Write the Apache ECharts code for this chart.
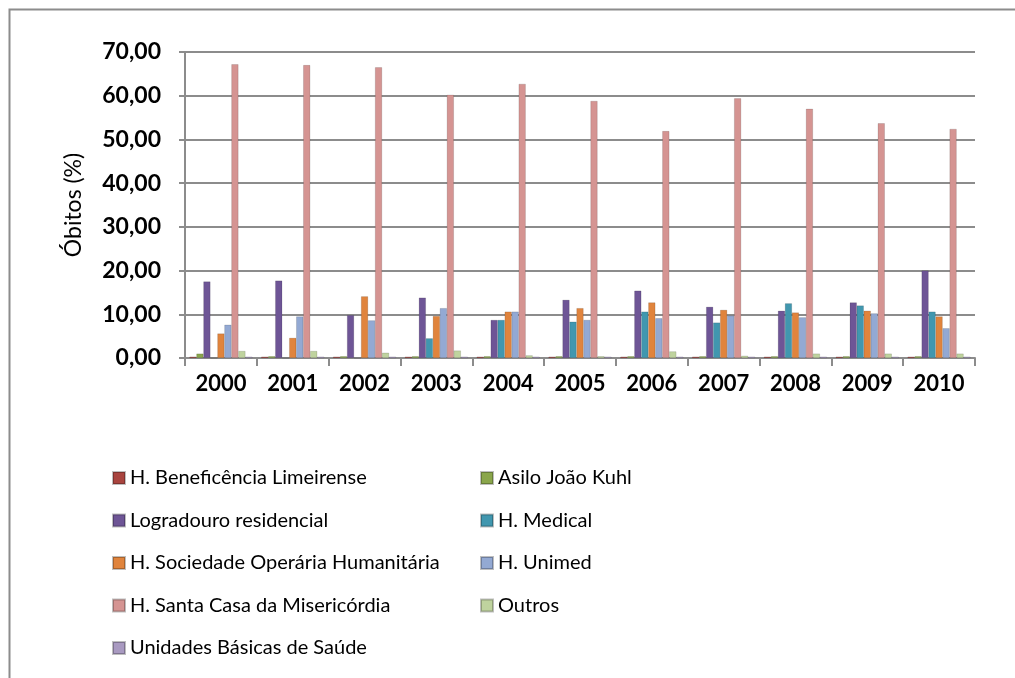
<!DOCTYPE html>
<html>
<head>
<meta charset="utf-8">
<title>Óbitos por local</title>
<script src="https://cdn.jsdelivr.net/npm/echarts@6/dist/echarts.min.js"></script>
<style>
  html, body { margin: 0; padding: 0; background: #fff; }
  #chart { width: 1015px; height: 678px; }
</style>
</head>
<body>
<div id="chart"></div>
<script>
// anos (eixo x)
const anos = ['2000', '2001', '2002', '2003', '2004', '2005', '2006', '2007', '2008', '2009', '2010']

// óbitos (%) por local
const beneficencia = [0.3, 0.3, 0.3, 0.3, 0.3, 0.3, 0.3, 0.3, 0.3, 0.3, 0.3]
const asilo = [1.0, 0.4, 0.4, 0.4, 0.4, 0.4, 0.4, 0.4, 0.4, 0.4, 0.4]
const logradouro = [17.5, 17.7, 9.8, 13.8, 8.7, 13.3, 15.4, 11.7, 10.8, 12.7, 20.0]
const medical = [0, 0, 0, 4.5, 8.7, 8.3, 10.6, 8.1, 12.5, 12.0, 10.6]
const sociedade = [5.6, 4.6, 14.1, 9.6, 10.6, 11.4, 12.7, 11.0, 10.4, 10.8, 9.5]
const unimed = [7.6, 9.5, 8.6, 11.4, 10.6, 8.7, 9.1, 9.7, 9.3, 10.2, 6.8]
const santaCasa = [67.2, 67.0, 66.5, 60.2, 62.7, 58.8, 51.9, 59.4, 57.0, 53.7, 52.4]
const outros = [1.6, 1.6, 1.2, 1.7, 0.6, 0.4, 1.5, 0.5, 1.0, 1.0, 1.0]
const ubs = [0.3, 0.3, 0.3, 0.3, 0.3, 0.3, 0.3, 0.3, 0.3, 0.3, 0.3]

const series = [
  { name: 'H. Beneficência Limeirense', data: beneficencia, color: '#A9443F' },
  { name: 'Asilo João Kuhl', data: asilo, color: '#8AA64B' },
  { name: 'Logradouro residencial', data: logradouro, color: '#6E5596' },
  { name: 'H. Medical', data: medical, color: '#4197AF' },
  { name: 'H. Sociedade Operária Humanitária', data: sociedade, color: '#E0843D' },
  { name: 'H. Unimed', data: unimed, color: '#93A9D3' },
  { name: 'H. Santa Casa da Misericórdia', data: santaCasa, color: '#D59492' },
  { name: 'Outros', data: outros, color: '#BFD39E' },
  { name: 'Unidades Básicas de Saúde', data: ubs, color: '#A99AC1' },
]

const chart = echarts.init(document.getElementById('chart'))

const fonte = 'Lato, "Liberation Sans", sans-serif'

const legendText = {
  fontFamily: fonte,
  fontSize: 20,
  color: '#000',
  lineHeight: 22,
}

chart.setOption({
  animation: false,
  backgroundColor: '#fff',
  graphic: [
    {
      type: 'rect',
      shape: { x: 9.5, y: 9.5, width: 1200, height: 900 },
      style: { fill: 'none', stroke: '#8c8c8c', lineWidth: 2 },
      silent: true,
    },
  ],
  grid: { left: 185, right: 40, top: 52, bottom: 320 },
  legend: [
    {
      orient: 'vertical',
      left: 112,
      top: 467,
      padding: 0,
      itemWidth: 12,
      itemHeight: 12,
      itemGap: 20.5,
      icon: 'rect',
      textStyle: legendText,
      data: series.filter((s, i) => i % 2 === 0).map((s) => s.name),
    },
    {
      orient: 'vertical',
      left: 480,
      top: 467,
      padding: 0,
      itemWidth: 12,
      itemHeight: 12,
      itemGap: 20.5,
      icon: 'rect',
      textStyle: legendText,
      data: series.filter((s, i) => i % 2 === 1).map((s) => s.name),
    },
  ],
  xAxis: {
    type: 'category',
    data: anos,
    axisLine: { lineStyle: { color: '#8c8c8c', width: 2 } },
    axisTick: { show: true, length: 8, lineStyle: { color: '#8c8c8c', width: 2 } },
    axisLabel: {
      color: '#000',
      fontFamily: fonte,
      fontWeight: 'bold',
      fontSize: 22,
      margin: 15,
    },
  },
  yAxis: {
    type: 'value',
    min: 0,
    max: 70,
    interval: 10,
    name: 'Óbitos (%)',
    nameLocation: 'middle',
    nameGap: 100,
    nameTextStyle: {
      color: '#000',
      fontFamily: fonte,
      fontSize: 23,
    },
    axisLine: { show: true, lineStyle: { color: '#8c8c8c', width: 2 } },
    axisTick: { show: true, length: 6, lineStyle: { color: '#8c8c8c', width: 2 } },
    splitLine: { lineStyle: { color: '#8c8c8c', width: 2 } },
    axisLabel: {
      color: '#000',
      fontFamily: fonte,
      fontWeight: 'bold',
      fontSize: 23,
      margin: 24,
      formatter: (v) => v.toFixed(2).replace('.', ','),
    },
  },
  series: series.map((s) => ({
    name: s.name,
    type: 'bar',
    data: s.data,
    barWidth: 7,
    barGap: '0%',
    itemStyle: { color: s.color, borderColor: 'rgba(0,0,0,0.25)', borderWidth: 0.5 },
  })),
})
</script>
</body>
</html>
